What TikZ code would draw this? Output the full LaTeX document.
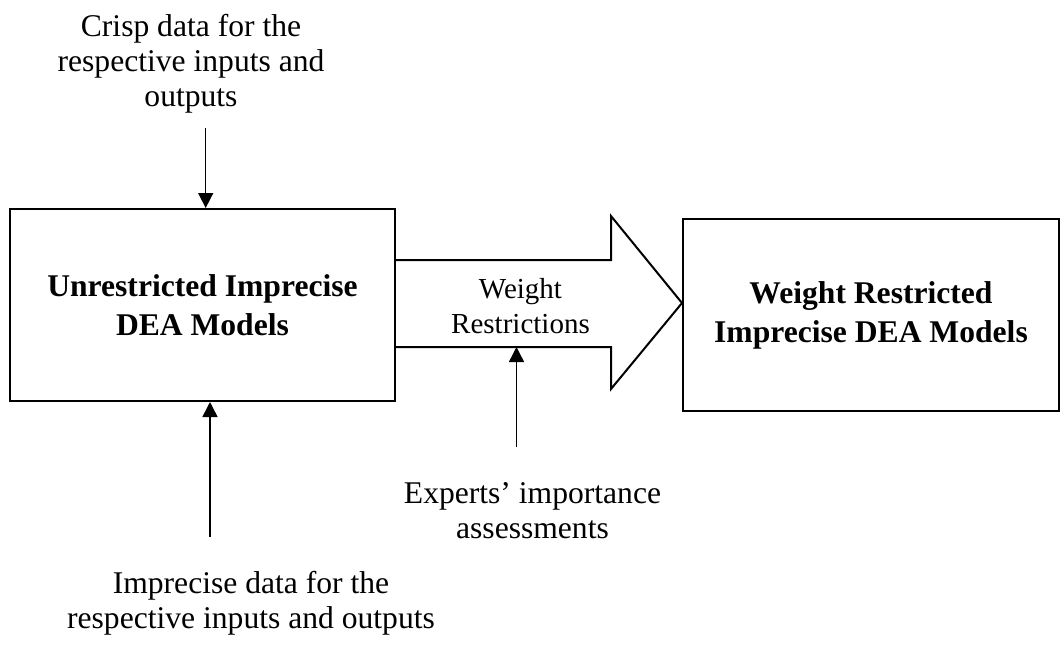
\documentclass[tikz,border=0pt]{standalone}
\usepackage{fontspec}
\setmainfont{Liberation Serif}
\usetikzlibrary{arrows.meta,calc,positioning}
\tikzset{%
	block/.style    = {draw, rectangle, line width=1pt, minimum width=192.5pt, minimum height=96pt, align=center, font=\fontsize{15.8}{19.5}\selectfont\bfseries}, % Model box
	note/.style     = {align=center, inner sep=0pt, font=\fontsize{15.8}{17.5}\selectfont}, % Data text
	waypoint/.style = {coordinate},
	arrow/.style    = {line width=0.75pt, -{Triangle[length=7.5pt,width=7.5pt]}},
	bigarrow/.style = {draw, line width=1pt, line join=miter},
}

\begin{document}
\begin{tikzpicture}[x=0.5pt,y=-0.5pt]
	\useasboundingbox (0,0) rectangle (1060,644);
	% boxes
	\node [block] (unres) at (202.5,305) {Unrestricted Imprecise\\DEA Models};
	\node [block, minimum width=188pt] (wres) at (871,315) {Weight Restricted\\Imprecise DEA Models};
	
	% block arrow between the boxes
	\node [waypoint] (shafthigh) at (unres.east |- 0,260) {};
	\node [waypoint] (shaftlow) at (unres.east |- 0,347) {};
	\node [waypoint] (tip) at (wres.west |- 0,303) {};
	\draw [bigarrow] (shafthigh) -- (611,260) -- (611,216) -- (tip) -- (611,389) -- (611,347) -- (shaftlow);
	\node [note, font=\fontsize{14.5}{17.5}\selectfont] (wr) at (520.5,306) {Weight\\Restrictions};
	
	% inputs
	\node [note] (crisp) at (191,64) {Crisp data for the\\respective inputs and\\outputs};
	\node [note] (impr) at (251,603.5) {Imprecise data for the\\respective inputs and outputs};
	\node [note] (expt) at (532.5,510.5) {Experts' importance\\assessments};
	\node [waypoint] (crispend) at (205.7,128) {};
	\node [waypoint] (imprend) at (210,537) {};
	\node [waypoint] (exptend) at (516.5,447) {};
	
	\draw [arrow] (crispend) -- (crispend |- unres.north);
	\draw [arrow] (imprend) -- (imprend |- unres.south);
	\draw [arrow] (exptend) -- (exptend |- shaftlow);
\end{tikzpicture}
\end{document}
